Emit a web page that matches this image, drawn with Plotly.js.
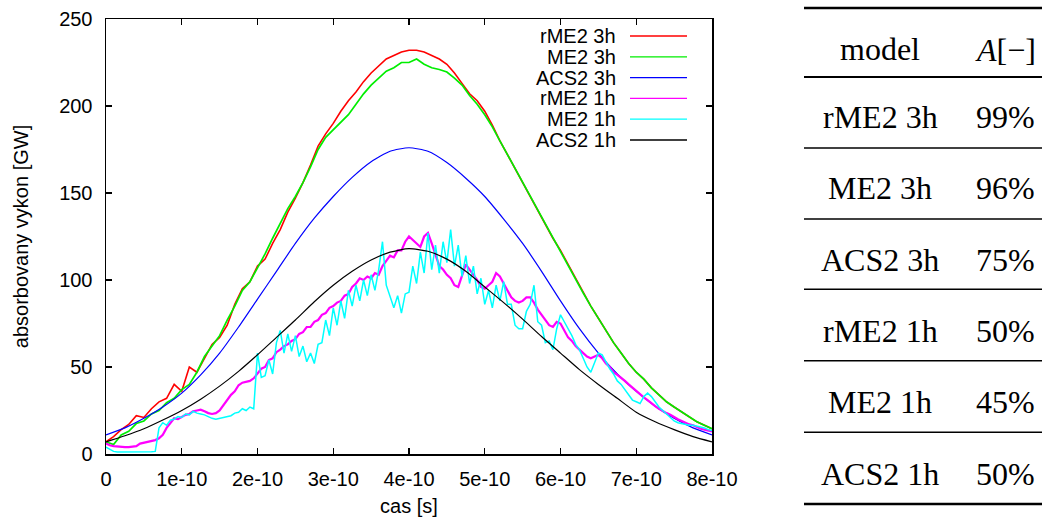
<!DOCTYPE html>
<html><head><meta charset="utf-8">
<script src="https://cdn.plot.ly/plotly-3.0.1.min.js"></script>
<style>html,body{margin:0;padding:0;background:#fff}#chart{width:1042px;height:521px}</style>
</head><body><div id="chart"></div>
<script>
// ---------- data ----------
const xTickVals = [0, 1e-10, 2e-10, 3e-10, 4e-10, 5e-10, 6e-10, 7e-10, 8e-10];
const xTickText = ['0', '1e-10', '2e-10', '3e-10', '4e-10', '5e-10', '6e-10', '7e-10', '8e-10'];
const yTickVals = [0, 50, 100, 150, 200, 250];
const seriesNames = ['rME2 3h', 'ME2 3h', 'ACS2 3h', 'rME2 1h', 'ME2 1h', 'ACS2 1h'];
const seriesColors = ['#ff0000', '#00ee00', '#0000ff', '#ff00ff', '#00ffff', '#000000'];
// sampling step of each series (seconds)
const dtCoarse = 0.25e-10, dtMid = 0.1e-10, dtFine = 0.05e-10;

const rME2_3h = [7,10,14,17,22,21,26,30,32,40,36,50,47,55,63,67,74,86,95,99,108,112,121,129,139,147,156,166,177,184,190,197,203,208,214,219,223,227,229,231,232,232,231,229,227,224,219,213,207,203,197,189,180,172,164,156,148,140,132,124,117,109,101,93,85,78,71,64,58,52,47,43,38,34,30,27,24,21,18.5,16.5,14.5];
const ME2_3h = [7,5.5,11,13,17.5,19,23,25,29.5,32,37,40,47,56,62,68,77,85,94,99,107,115,124,133,141,148,156,165,175,182,186.5,190.5,195,201,207,212,216,220,222,225,225,227,224,222,221,219.5,216,212,206,201,195,188,180,172,164,156,148,140,132,124,116.5,108.5,100.5,92.5,85,78,71,64,58,52,47,43,38,34,30,27,24,21,18.5,16.5,14.5];
const ACS2_3h = [11,15,20.5,27,35,45.5,58,73,89,105,121,135.5,148,159,168,174,176,174,167.5,158.5,148,135,121,105,88,72,58,46,36,27.5,20.5,15,11];
const rME2_1h = [6,5,4.5,4.2,4,4,4,4.2,4.5,6,
  6.5,7,7.5,8,9,11,15,18,20.5,20,
  21.5,22.5,23,24.5,25,25.5,24.5,23.5,23,23.5,
  25,28,31,34,36,39.5,41,41.5,42,43.5,
  46,49,50,54,55,58.5,60,62,63,65,
  66,69,70,73,73,76,77,80,81,84,
  85,87,88,91,92,96,98,101,100,102,
  101,104,103,108,111,114,113,117,117,122,
  125,123,121,119,125,127,121,114,108,106,
  103,101,97,96,103,109,106,103,100,96,
  95,97,99,104,102,98,94,90,88,87,
  88,90,90,87,83,80,77,74,73,76,
  75,71,67,65,62,60,58,56,55,56,
  57,55,52,50,47,45.5,44,42,40,38,
  36,34,32.5,31,29,27.5,26,24.5,23.5,22.5,
  21,20,19,18,17,16.5,15.5,14.5,14,13.5,
  13];
const ME2_1h = [4,2.5,1.5,1.2,1.2,1.2,1.2,1,1,1.2,
  1.2,1.2,1.3,1.5,15,18,16.5,19.5,20,21.5,
  21,23,22.5,24.5,23.5,23,22.5,21.5,20.5,20,
  20.5,21,21.5,22,23.5,24,26,25,27,26,
  58,44,45,54,46,64,71,58,69,59,
  68,56,62,53,58,52,63,64,77,68,
  84,74,88,78,94,85,97,88,100,91,
  103,94,106,122,97,90,84,91,81,92,
  93,108,98,116,104,127,106,120,104,122,
  110,129,108,120,102,114,98,108,92,101,
  86,94,84,97,88,99,86,86,74,72,
  72,82,86,97,76,74,64,65,60,72,
  80,76,72,68,63,60,55,50,47,52,
  58,57,53,49,46,42,40,37,34,31,
  30,29,33,35,33,30,27,25,23,21,
  19,18,17.5,17,16.5,16.5,16,15.5,15,14,
  13.5];
const ACS2_1h = [7,10.5,14.5,19.5,25,31.5,39,47.5,57,67,77,87.5,97,105,111.5,116,118,116.5,112,105,96,87,77.5,67.5,58,48.5,40,32,24,18.5,14,10,7];

const tableHeader = ['model', '<i>A</i>[−]'];
const tableModels = ['rME2 3h', 'ME2 3h', 'ACS2 3h', 'rME2 1h', 'ME2 1h', 'ACS2 1h'];
const tableAccuracy = ['99%', '96%', '75%', '50%', '45%', '50%'];

// ---------- figure ----------
const W = 1042, H = 521;
const PL = 106, PR = 712, PT = 19, PB = 454;
const X = px => (px - PL) / (PR - PL);
const Y = py => (PB - py) / (PB - PT);

const seriesData = [rME2_3h, ME2_3h, ACS2_3h, rME2_1h, ME2_1h, ACS2_1h];
const seriesDt = [dtMid, dtMid, dtCoarse, dtFine, dtFine, dtCoarse];
const seriesShape = ['linear', 'linear', 'spline', 'linear', 'linear', 'spline'];
const seriesWidth = [1.6, 1.7, 1.2, 2.2, 1.5, 1.2];

const traces = seriesData.map((ys, i) => ({
  type: 'scatter', mode: 'lines', name: seriesNames[i],
  y: ys, x0: 0, dx: seriesDt[i],
  line: {color: seriesColors[i], width: seriesWidth[i], shape: seriesShape[i], smoothing: 0.6},
  showlegend: false, hoverinfo: 'skip'
}));

const sansFont = {family: 'Liberation Sans, Arial, sans-serif', size: 20, color: '#000'};
const serifFont = {family: 'Liberation Serif, Times New Roman, serif', size: 32, color: '#000'};

const annotations = [];
const shapes = [];

// legend (gnuplot style: text left, sample right)
seriesNames.forEach((n, i) => {
  const py = 36 + i * 20.8;
  annotations.push({xref: 'paper', yref: 'paper', x: X(618), y: Y(py), xanchor: 'right', yanchor: 'middle',
    text: n, showarrow: false, font: sansFont});
  shapes.push({type: 'line', xref: 'paper', yref: 'paper', x0: X(630), x1: X(687), y0: Y(py), y1: Y(py),
    line: {color: seriesColors[i], width: 1.3}});
});

// table
const tblL = 804, tblR = 1042, colA = 880, colB = 1005;
const ruleY = [8, 77, 148, 219, 289.3, 360.7, 432.3, 504];
ruleY.forEach((ry, i) => {
  const w = (i === 0 || i === ruleY.length - 1) ? 2.6 : (i === 1 ? 2.2 : 1.5);
  shapes.push({type: 'line', xref: 'paper', yref: 'paper', x0: X(tblL), x1: X(tblR), y0: Y(ry), y1: Y(ry),
    line: {color: '#000', width: w}});
});
annotations.push({xref: 'paper', yref: 'paper', x: X(colA), y: Y(49), xanchor: 'center', yanchor: 'middle',
  text: tableHeader[0], showarrow: false, font: serifFont});
annotations.push({xref: 'paper', yref: 'paper', x: X(colB), y: Y(50), xanchor: 'center', yanchor: 'middle',
  text: tableHeader[1], showarrow: false, font: serifFont});
tableModels.forEach((m, i) => {
  const py = 117 + i * 71.3;
  annotations.push({xref: 'paper', yref: 'paper', x: X(colA), y: Y(py), xanchor: 'center', yanchor: 'middle',
    text: m, showarrow: false, font: serifFont});
  annotations.push({xref: 'paper', yref: 'paper', x: X(colB), y: Y(py), xanchor: 'center', yanchor: 'middle',
    text: tableAccuracy[i], showarrow: false, font: serifFont});
});

const axisCommon = {
  showline: true, linecolor: '#000', linewidth: 1.5, mirror: 'ticks',
  ticks: 'inside', ticklen: 6, tickwidth: 1.2, tickcolor: '#000',
  showgrid: false, zeroline: false, tickfont: sansFont, fixedrange: true
};

const layout = {
  width: W, height: H,
  margin: {l: PL, r: W - PR, t: PT, b: H - PB, pad: 0},
  paper_bgcolor: '#fff', plot_bgcolor: '#fff',
  showlegend: false,
  xaxis: Object.assign({}, axisCommon, {
    range: [0, 8e-10], tickmode: 'array', tickvals: xTickVals, ticktext: xTickText,
    ticklabelstandoff: 6,
    title: {text: 'cas [s]', font: sansFont, standoff: 10}
  }),
  yaxis: Object.assign({}, axisCommon, {
    range: [0, 250], tickmode: 'array', tickvals: yTickVals, ticktext: yTickVals.map(String),
    ticklabelstandoff: 8,
    title: {text: 'absorbovany vykon [GW]', font: sansFont, standoff: 25}
  }),
  annotations: annotations,
  shapes: shapes
};

Plotly.newPlot('chart', traces, layout, {staticPlot: true, displayModeBar: false});
</script>
</body></html>
